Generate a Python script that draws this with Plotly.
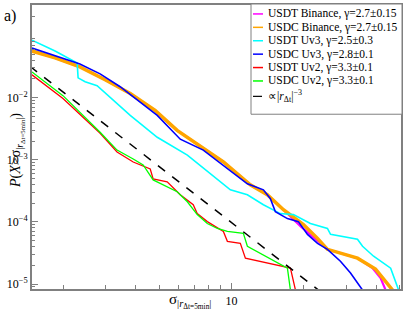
import plotly.graph_objects as go

# ---- data ----
names = ["USDT Binance, γ=2.7±0.15", "USDC Binance, γ=2.7±0.15", "USDT Uv3, γ=2.5±0.3",
         "USDC Uv3, γ=2.8±0.1", "USDT Uv2, γ=3.3±0.1", "USDC Uv2, γ=3.3±0.1"]
ref_name = "∝|<i>r</i><sub>Δt</sub>|<sup>−3</sup>"

usdt_bin_x = [1.479, 1.845, 2.34, 2.98, 3.79, 4.81, 5.94, 7.20, 9.25, 11.97, 14.09, 16.44,
              19.4, 21.7, 25.06, 33.42, 38.6, 41.7, 43.75]
usdt_bin_y = [0.0561, 0.0435, 0.0312, 0.0194, 0.0116, 0.0062, 0.00297, 0.00178, 0.00092,
              0.000395, 0.000273, 0.000157, 8.43e-5, 5.85e-5, 3.62e-5, 2.61e-5, 1.80e-5,
              1.25e-5, 8.0e-6]

usdc_bin_x = [1.479, 1.845, 2.34, 2.98, 3.79, 4.81, 5.94, 7.20, 9.25, 11.97, 14.09, 16.44,
              19.91, 22.79, 25.06, 33.42, 39.72, 46.77]
usdc_bin_y = [0.0561, 0.0435, 0.0312, 0.0194, 0.0116, 0.0062, 0.00297, 0.00178, 0.00092,
              0.000395, 0.000273, 0.000157, 9.06e-5, 5.43e-5, 3.62e-5, 2.61e-5, 1.74e-5,
              8.0e-6]

usdt_uv3_x = [1.479, 1.845, 2.28, 2.30, 2.46, 2.76, 3.79, 4.91, 6.55, 8.16, 9.89, 11.64,
              13.57, 15.96, 18.09, 21.29, 25.06, 25.82, 33.42, 35.08, 38.99, 45.92, 49.55]
usdt_uv3_y = [0.0841, 0.0561, 0.0361, 0.0208, 0.0180, 0.0155, 0.00516, 0.00230, 0.00119,
              0.000591, 0.000328, 0.000273, 0.000189, 0.000136, 0.000131, 9.42e-5, 7.83e-5,
              6.29e-5, 5.24e-5, 4.05e-5, 2.80e-5, 1.80e-5, 8.0e-6]

usdc_uv3_x = [1.479, 1.845, 2.34, 2.84, 3.44, 4.91, 6.12, 7.63, 9.61, 11.64, 13.57, 14.51,
              15.22, 17.08, 18.97, 20.70, 22.79, 25.06, 28.38, 31.26, 35.08]
usdc_uv3_y = [0.0627, 0.0468, 0.0348, 0.0241, 0.01496, 0.00516, 0.00214, 0.00143, 0.00071,
              0.000409, 0.000328, 0.000236, 0.000146, 0.000113, 0.000101, 6.29e-5, 4.52e-5,
              3.62e-5, 2.33e-5, 1.50e-5, 8.0e-6]

usdt_uv2_x = [1.479, 1.99, 2.84, 3.34, 3.90, 4.59, 4.72, 5.40, 6.12, 6.93, 7.20, 7.93, 9.25,
              9.61, 10.88, 11.42, 17.58, 18.45]
usdt_uv2_y = [0.0232, 0.00964, 0.00267, 0.00133, 0.00092, 0.00071, 0.000492, 0.000441,
              0.000273, 0.000189, 0.000136, 0.000101, 7.01e-5, 4.86e-5, 4.52e-5, 2.61e-5,
              1.80e-5, 8.0e-6]

usdc_uv2_x = [1.479, 1.99, 2.84, 3.34, 3.90, 4.29, 4.72, 5.94, 6.55, 7.20, 7.93, 8.73, 9.61,
              11.2, 11.64, 17.08, 17.58]
usdc_uv2_y = [0.0259, 0.01076, 0.00277, 0.00143, 0.00103, 0.000823, 0.000474, 0.000305,
              0.000211, 0.000131, 9.42e-5, 7.83e-5, 7.01e-5, 6.53e-5, 4.05e-5, 1.80e-5, 8.0e-6]

ref_x = [1.45, 26.0]
ref_y = [0.0319, 5.54e-6]

x_major = [10]
x_major_text = ["10"]
x_minor = [2, 3, 4, 5, 6, 7, 8, 9, 20, 30, 40, 50]
y_major = [1e-5, 1e-4, 1e-3, 1e-2]
y_major_text = ["10<sup>−5</sup>", "10<sup>−4</sup>", "10<sup>−3</sup>", "10<sup>−2</sup>"]
y_minor = [m * 10.0 ** d for d in range(-6, 0) for m in range(2, 10)]

# ---- styling ----
colors = ["#ff00ff", "#ffa500", "#00ffff", "#0000ff", "#ff0000", "#00ff00"]
widths = [2.2, 3.5, 1.6, 1.6, 1.3, 1.3]
series = [(usdt_bin_x, usdt_bin_y), (usdc_bin_x, usdc_bin_y), (usdt_uv3_x, usdt_uv3_y),
          (usdc_uv3_x, usdc_uv3_y), (usdt_uv2_x, usdt_uv2_y), (usdc_uv2_x, usdc_uv2_y)]
FONT = "Liberation Serif, Times New Roman, serif"
AX = "#808080"

fig = go.Figure()
for (xs, ys), nm, c, w in zip(series, names, colors, widths):
    fig.add_trace(go.Scatter(x=xs, y=ys, mode="lines", name=nm,
                             line=dict(color=c, width=w), showlegend=False))
fig.add_trace(go.Scatter(x=ref_x, y=ref_y, mode="lines", name="ref",
                         line=dict(color="black", width=1.5, dash="dash"), showlegend=False))

W, H = 407, 311
ml, mr, mt, mb = 32, 6, 3, 22
pw, ph = W - ml - mr, H - mt - mb


def px(xp):
    return (xp - ml) / pw


def py(yp):
    return (H - mb - yp) / ph


# manual legend
shapes = [dict(type="rect", xref="paper", yref="paper", x0=px(251), x1=px(402),
               y0=py(113), y1=py(2), line=dict(color=AX, width=1), fillcolor="white",
               layer="above")]
annotations = []
rows = [12, 25.5, 39, 52.5, 66, 79.5, 95]
labels = names + [ref_name]
styles = [dict(color=c, width=1.5) for c in colors] + [dict(color="black", width=1.2, dash="dash")]
for r, lab, st in zip(rows, labels, styles):
    shapes.append(dict(type="line", xref="paper", yref="paper", x0=px(253), x1=px(263),
                       y0=py(r), y1=py(r), line=st, layer="above"))
    annotations.append(dict(xref="paper", yref="paper", x=px(266), y=py(r), text=lab,
                            showarrow=False, xanchor="left", yanchor="middle",
                            font=dict(family=FONT, size=11.5, color="black")))

annotations += [
    dict(xref="paper", yref="paper", x=px(2), y=py(3), text="a)", showarrow=False,
         xanchor="left", yanchor="top", font=dict(family=FONT, size=16, color="black")),
    dict(xref="paper", yref="paper", x=px(190), y=py(301),
         text="σ<sub>|<i>r</i><sub>Δt=5min</sub>|</sub>", showarrow=False,
         xanchor="center", yanchor="middle", font=dict(family=FONT, size=15, color="black")),
    dict(xref="paper", yref="paper", x=px(17), y=py(150),
         text="<i>P</i>(<i>X</i>>σ<sub>|<i>r</i><sub>Δt=5min</sub>|</sub>)", showarrow=False,
         textangle=-90, xanchor="center", yanchor="middle",
         font=dict(family=FONT, size=14, color="black")),
]

fig.update_layout(
    width=W, height=H,
    margin=dict(l=ml, r=mr, t=mt, b=mb, pad=0),
    paper_bgcolor="white", plot_bgcolor="white",
    showlegend=False,
    shapes=shapes, annotations=annotations,
    font=dict(family=FONT, size=12, color="black"),
)
fig.update_xaxes(type="log", range=[0.17, 1.705], showgrid=False, zeroline=False,
                 showline=True, mirror=True, linecolor=AX, linewidth=2,
                 tickvals=x_major, ticktext=x_major_text, ticks="inside", ticklen=6,
                 tickcolor=AX, tickwidth=1, tickfont=dict(family=FONT, size=12),
                 minor=dict(tickvals=x_minor, ticks="inside", ticklen=4, tickcolor=AX,
                            tickwidth=1, showgrid=False))
fig.update_yaxes(type="log", range=[-5.08, -0.51], showgrid=False, zeroline=False,
                 showline=True, mirror=True, linecolor=AX, linewidth=2,
                 tickvals=y_major, ticktext=y_major_text, ticks="inside", ticklen=6,
                 tickcolor=AX, tickwidth=1, tickfont=dict(family=FONT, size=12),
                 minor=dict(tickvals=y_minor, ticks="inside", ticklen=3, tickcolor=AX,
                            tickwidth=1, showgrid=False))

fig.write_html("out.html", config={"displayModeBar": False},
               post_script="document.body.style.margin='0px';document.body.style.padding='0px';")
